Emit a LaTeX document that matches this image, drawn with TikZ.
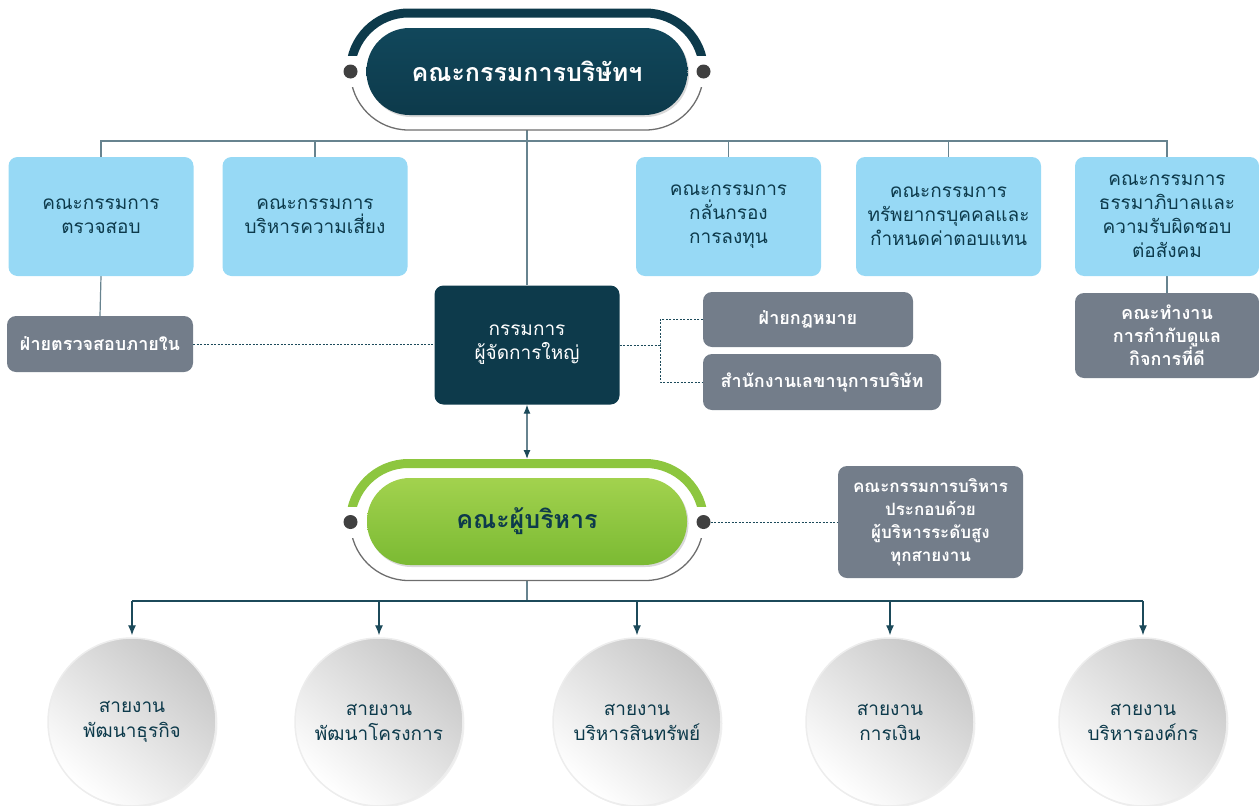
\documentclass[tikz,border=0pt]{standalone}
\usepackage{fontspec}
\newfontfamily\thai[Script=Thai]{Loma}
\usetikzlibrary{arrows.meta,shadows,backgrounds}

\definecolor{deepteal}{HTML}{0D3A4B}
\definecolor{deeptealtop}{HTML}{11475B}
\definecolor{skyfill}{HTML}{97D9F5}
\definecolor{slatefill}{HTML}{737D8A}
\definecolor{linkgray}{HTML}{67838F}
\definecolor{arrowteal}{HTML}{1C4A5A}
\definecolor{dotgray}{HTML}{404040}
\definecolor{arcgray}{HTML}{6E6E6E}
\definecolor{leaf}{HTML}{8DC63F}
\definecolor{leaftop}{HTML}{A2D24E}
\definecolor{leafbot}{HTML}{7BBA33}

% frame around a pill: thick coloured arc on top, thin grey arc below, two dots
\newcommand\pillframe[3]{%
  \begin{scope}
    \clip (#1-200,#2-75) rectangle (#1+200,#2-16);
    \draw[line width=9pt,#3,rounded corners=58pt] (#1-176.5,#2-58.5) rectangle (#1+176.5,#2+58.5);
  \end{scope}
  \begin{scope}
    \clip (#1-200,#2+16) rectangle (#1+200,#2+75);
    \draw[line width=1.3pt,arcgray,rounded corners=58pt] (#1-176.5,#2-58.5) rectangle (#1+176.5,#2+58.5);
  \end{scope}
  \fill[dotgray] (#1-176.5,#2) circle (7pt);
  \fill[dotgray] (#1+176.5,#2) circle (7pt);
}

\begin{document}
\begin{tikzpicture}[x=1pt,y=-1pt,
  committee/.style={rectangle,rounded corners=9pt,fill=skyfill,text=deepteal,
    minimum width=185pt,minimum height=119pt,align=center,inner sep=2pt,
    font=\thai\fontsize{19}{24}\selectfont},
  unitbox/.style={rectangle,rounded corners=9pt,fill=slatefill,text=white,
    align=center,inner sep=2pt,font=\thai\bfseries\fontsize{18}{23}\selectfont},
  pill/.style={rectangle,rounded corners=43pt,minimum height=87pt,
    minimum width=321pt,align=center,inner sep=0pt,
    drop shadow={shadow xshift=1.5pt,shadow yshift=-2pt,opacity=0.3}},
  lineunit/.style={rectangle,circle,minimum size=168pt,inner sep=0pt,align=center,
    draw=black!7,line width=1.5pt,text=deepteal,
    top color=black!22,bottom color=white,shading angle=-40,
    font=\thai\fontsize{19}{25}\selectfont,
    drop shadow={shadow xshift=1.5pt,shadow yshift=-1.5pt,opacity=0.12}},
  link/.style={draw=linkgray,line width=1.2pt},
  dotlink/.style={draw=arrowteal,line width=0.9pt,dash pattern=on 2pt off 1.5pt},
  downlink/.style={draw=arrowteal,line width=1.1pt,-{Latex[length=10pt,width=8pt]}},
]
\clip (0,0) rectangle (1259,806);

% board of directors
\pillframe{527}{71.5}{deepteal}
\node[pill,top color=deeptealtop,bottom color=deepteal,text=white,
  font=\thai\bfseries\fontsize{25}{29}\selectfont] (board) at (527,71.5) {คณะกรรมการบริษัทฯ};
\coordinate (boardbase) at (527,130);
\coordinate (bus) at (527,141);

% committees
\node[committee] (com1) at (101,216.5) {คณะกรรมการ\\ตรวจสอบ};
\node[committee] (com2) at (315,216.5) {คณะกรรมการ\\บริหารความเสี่ยง};
\node[committee] (com3) at (728.5,216.5) {คณะกรรมการ\\กลั่นกรอง\\การลงทุน};
\node[committee] (com4) at (948.5,216.5) {คณะกรรมการ\\ทรัพยากรบุคคลและ\\กำหนดค่าตอบแทน};
\node[committee,minimum width=184pt] (com5) at (1167,216.5) {คณะกรรมการ\\ธรรมาภิบาลและ\\ความรับผิดชอบ\\ต่อสังคม};

% units
\node[unitbox,minimum width=186pt,minimum height=56pt] (audit) at (100,344) {ฝ่ายตรวจสอบภายใน};
\node[unitbox,minimum width=210pt,minimum height=55pt] (legal) at (808,319.5) {ฝ่ายกฎหมาย};
\node[unitbox,minimum width=238pt,minimum height=56pt] (sec) at (822,382) {สำนักงานเลขานุการบริษัท};
\node[unitbox,minimum width=184pt,minimum height=85pt] (wg) at (1167,335.5) {คณะทำงาน\\การกำกับดูแล\\กิจการที่ดี};

% president
\node[rectangle,rounded corners=9pt,fill=deepteal,text=white,minimum width=185pt,
  minimum height=119pt,align=center,font=\thai\fontsize{19}{24}\selectfont]
  (gm) at (527,345) {กรรมการ\\ผู้จัดการใหญ่};
\coordinate (split) at (660,345);

% management
\pillframe{527}{522}{leaf}
\node[pill,minimum width=320pt,top color=leaftop,bottom color=leafbot,text=deepteal,
  font=\thai\bfseries\fontsize{25}{29}\selectfont] (exec) at (527,521.5) {คณะผู้บริหาร};
\coordinate (exectop) at (527,459);
\coordinate (execdot) at (703.5,522);
\coordinate (execbase) at (527,580);
\coordinate (bbus) at (527,601);
\node[unitbox,minimum width=185pt,minimum height=112pt,font=\thai\bfseries\fontsize{17}{23}\selectfont]
  (note) at (930.5,522) {คณะกรรมการบริหาร\\ประกอบด้วย\\ผู้บริหารระดับสูง\\ทุกสายงาน};

% business lines
\node[lineunit] (c1) at (132,722) {สายงาน\\พัฒนาธุรกิจ};
\node[lineunit] (c2) at (379,722) {สายงาน\\พัฒนาโครงการ};
\node[lineunit] (c3) at (637,722) {สายงาน\\บริหารสินทรัพย์};
\node[lineunit] (c4) at (890,722) {สายงาน\\การเงิน};
\node[lineunit] (c5) at (1143,722) {สายงาน\\บริหารองค์กร};

\begin{scope}[on background layer]
  \draw[link] (boardbase) -- (gm.north);
  \draw[link] (com1.north) -- (com1.north |- bus) -| (com5.north);
  \foreach \n in {com2,com3,com4} \draw[link] (\n.north) -- (\n.north |- bus);
  \draw[link] (com1.south) -- (audit.north);
  \draw[link] (com5.south) -- (wg.north);
  \draw[dotlink] (audit.east) -- (gm.west |- audit.east);
  \draw[dotlink] (gm.east |- split) -- (split);
  \draw[dotlink] (legal.west) -| (split) |- (sec.west);
  \draw[link,{Latex[length=9pt,width=7pt,color=arrowteal]}-{Latex[length=9pt,width=7pt,color=arrowteal]}]
    (gm.south) -- (exectop);
  \draw[dotlink] (execdot) -- (note.west);
  \draw[link] (execbase) -- (bbus);
  \draw[draw=arrowteal,line width=1.1pt] (bbus -| c1.north) -- (bbus -| c5.north);
  \foreach \n in {c1,c2,c3,c4,c5}
    \draw[downlink,shorten >=2pt] (bbus -| \n.north) -- (\n.north);
\end{scope}
\end{tikzpicture}
\end{document}
